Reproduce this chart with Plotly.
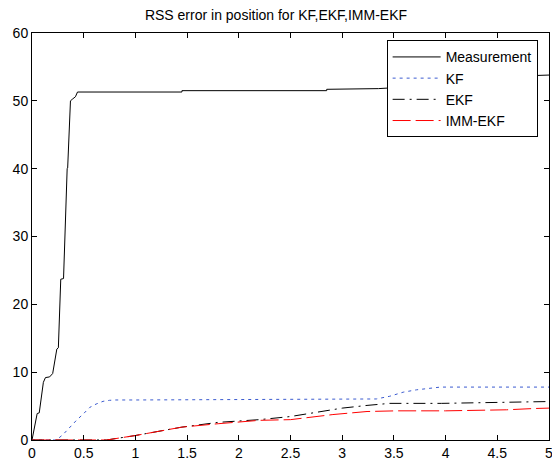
import plotly.graph_objects as go

# Measurement
meas_x = [0, 0.02, 0.04, 0.05, 0.07, 0.09, 0.11, 0.13, 0.17, 0.2, 0.22, 0.24, 0.255, 0.265, 0.278, 0.305,
          0.315, 0.327, 0.34, 0.345, 0.358, 0.372, 0.395, 0.42, 0.44, 1.45, 1.45, 2.85, 2.85, 3.35, 3.8, 4.3, 4.8, 5.0]
meas_y = [0, 1.5, 3.4, 3.9, 4.0, 6.0, 8.5, 9.2, 9.3, 9.8, 11.5, 13.4, 13.6, 18.6, 23.7, 23.8,
          28.0, 35.8, 40.0, 40.1, 45.1, 50.0, 50.3, 50.6, 51.3, 51.3, 51.5, 51.5, 51.7, 51.8, 52.2, 53.0, 53.7, 53.8]

# KF
kf_x = [0, 0.236, 0.3, 0.36, 0.43, 0.5, 0.558, 0.62, 0.687, 0.75, 0.81, 1.0, 1.8, 1.81, 3.33, 3.46, 3.59, 3.72, 3.95, 5.0]
kf_y = [0, 0, 0.8, 1.8, 2.9, 3.9, 4.8, 5.3, 5.7, 5.85, 5.9, 5.9, 5.95, 6.05, 6.05, 6.45, 7.05, 7.4, 7.8, 7.8]

# EKF
ekf_x = [0, 0.72, 1.0, 1.45, 1.8, 2.2, 2.5, 2.88, 3.0, 3.24, 3.46, 3.96, 4.3, 5.0]
ekf_y = [0, 0, 0.66, 1.9, 2.6, 3.0, 3.46, 4.35, 4.7, 5.1, 5.4, 5.4, 5.5, 5.67]

# IMM-EKF
imm_x = [0, 0.72, 1.0, 1.45, 1.8, 2.2, 2.5, 2.72, 2.91, 3.24, 3.53, 4.0, 4.59, 4.85, 5.0]
imm_y = [0, 0, 0.66, 1.9, 2.4, 2.9, 3.0, 3.46, 3.75, 4.2, 4.3, 4.3, 4.45, 4.64, 4.7]

FONT = "Liberation Sans, Arial, sans-serif"

fig = go.Figure()
fig.add_trace(go.Scatter(x=meas_x, y=meas_y, mode="lines", name="Measurement",
                         line=dict(color="black", width=1)))
fig.add_trace(go.Scatter(x=kf_x, y=kf_y, mode="lines", name="KF",
                         line=dict(color="#3b5bd0", width=1, dash="3px,4px")))
fig.add_trace(go.Scatter(x=ekf_x, y=ekf_y, mode="lines", name="EKF",
                         line=dict(color="black", width=1, dash="12px,5px,2px,5px")))
fig.add_trace(go.Scatter(x=imm_x, y=imm_y, mode="lines", name="IMM-EKF",
                         line=dict(color="#ff0000", width=1, dash="18px,5px")))

axis_common = dict(showline=True, linecolor="black", linewidth=1, mirror="allticks",
                   ticks="inside", ticklen=5, tickcolor="black", showgrid=False,
                   zeroline=False, automargin=False, ticklabeloverflow="allow",
                   tickfont=dict(family=FONT, size=14, color="black"))

fig.update_xaxes(range=[0, 5], dtick=0.5, tick0=0, **axis_common)
fig.update_yaxes(range=[0, 60], dtick=10, tick0=0, **axis_common)

fig.update_layout(
    width=552, height=463,
    margin=dict(l=32, r=3, t=33, b=23),
    paper_bgcolor="white", plot_bgcolor="white",
    font=dict(family=FONT, size=14, color="black"),
    title=dict(text="RSS error in position for KF,EKF,IMM-EKF", x=0.5, xanchor="center",
               y=0.968, yanchor="middle", font=dict(family=FONT, size=14, color="black")),
    legend=dict(x=0.978, xanchor="right", y=0.982, yanchor="top",
                bordercolor="black", borderwidth=1, bgcolor="white",
                font=dict(family=FONT, size=14, color="black"),
                itemwidth=48, tracegroupgap=0),
    showlegend=True,
)

fig.write_html("out.html", config={"displayModeBar": False},
               post_script="document.body.style.margin='0';document.body.style.padding='0';")
